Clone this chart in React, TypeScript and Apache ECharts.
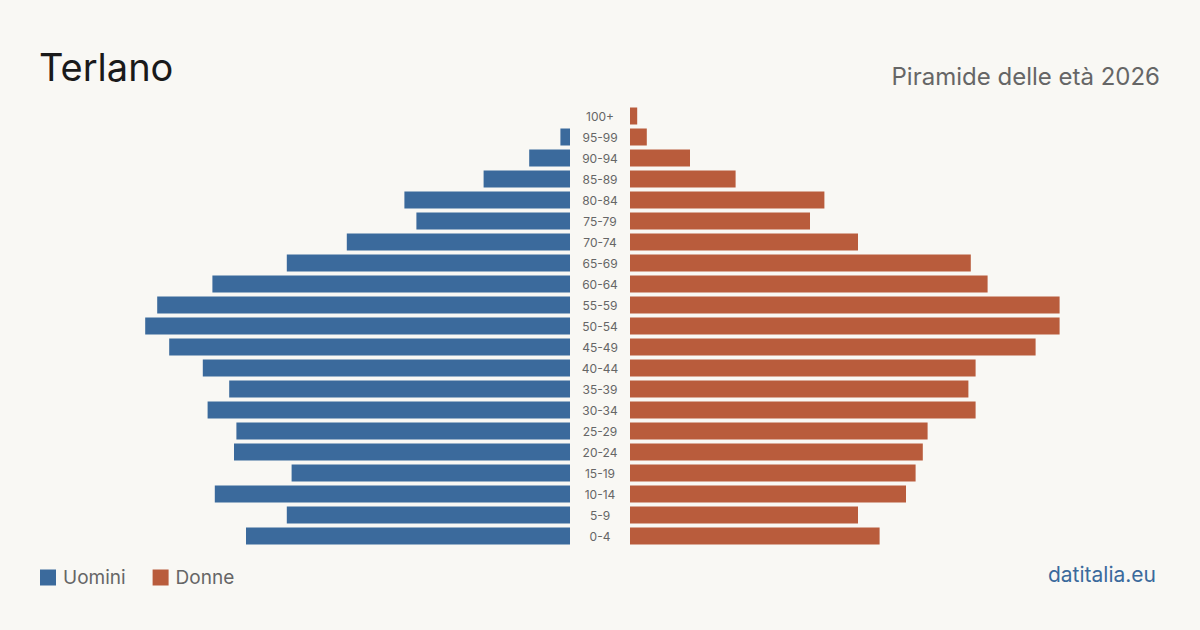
import React, { useEffect, useRef } from "react";
import * as echarts from "echarts";

const ageGroups = ["100+", "95-99", "90-94", "85-89", "80-84", "75-79", "70-74", "65-69", "60-64", "55-59", "50-54", "45-49", "40-44", "35-39", "30-34", "25-29", "20-24", "15-19", "10-14", "5-9", "0-4"];
const men = [0, 4, 17, 36, 69, 64, 93, 118, 149, 172, 177, 167, 153, 142, 151, 139, 140, 116, 148, 118, 135];
const women = [3, 7, 25, 44, 81, 75, 95, 142, 149, 179, 179, 169, 144, 141, 144, 124, 122, 119, 115, 95, 104];

const BLUE = "#3b6a9c";
const RED = "#b95c3c";
const FONT = "Inter, 'Noto Sans', sans-serif";

export default function App() {
  const ref = useRef<HTMLDivElement>(null);
  useEffect(() => {
    if (!ref.current) return;
    const chart = echarts.init(ref.current, null, { renderer: "svg" });
    const max = 220;
    chart.setOption({
      animation: false,
      backgroundColor: "#f9f8f4",
      textStyle: { fontFamily: FONT },
      title: [
        { text: "Terlano", left: 34, top: 43, textStyle: { fontSize: 38, fontWeight: 400, color: "#1a1a1a", fontFamily: FONT } },
        { text: "Piramide delle età 2026", right: 35, top: 59, textStyle: { fontSize: 24, fontWeight: 400, color: "#666666", fontFamily: FONT } },
        { text: "datitalia.eu", right: 39, top: 559, textStyle: { fontSize: 21, fontWeight: 400, color: BLUE, fontFamily: FONT } },
      ],
      legend: {
        left: 40,
        top: 568,
        padding: 0,
        itemWidth: 16,
        itemHeight: 16,
        itemGap: 27,
        icon: "rect",
        textStyle: { fontSize: 19, color: "#666666", fontFamily: FONT, padding: [0, 0, 0, 2] },
        data: ["Uomini", "Donne"],
      },
      grid: [
        { left: 42, width: 528, top: 105.5, height: 441, containLabel: false },
        { left: 630, width: 528, top: 105.5, height: 441, containLabel: false },
      ],
      xAxis: [
        { type: "value", gridIndex: 0, min: 0, max, inverse: true, show: false },
        { type: "value", gridIndex: 1, min: 0, max, show: false },
      ],
      yAxis: [
        {
          type: "category",
          gridIndex: 0,
          data: ageGroups,
          inverse: true,
          position: "right",
          axisLine: { show: false },
          axisTick: { show: false },
          axisLabel: { margin: 30, align: "center", fontSize: 12, color: "#666666", fontFamily: FONT },
        },
        {
          type: "category",
          gridIndex: 1,
          data: ageGroups,
          inverse: true,
          show: false,
        },
      ],
      series: [
        {
          name: "Uomini",
          type: "bar",
          xAxisIndex: 0,
          yAxisIndex: 0,
          data: men,
          barWidth: 17,
          itemStyle: { color: BLUE },
        },
        {
          name: "Donne",
          type: "bar",
          xAxisIndex: 1,
          yAxisIndex: 1,
          data: women,
          barWidth: 17,
          itemStyle: { color: RED },
        },
      ],
    });
    return () => chart.dispose();
  }, []);
  return <div ref={ref} style={{ width: 1200, height: 630, position: "absolute", left: 0, top: 0 }} />;
}
